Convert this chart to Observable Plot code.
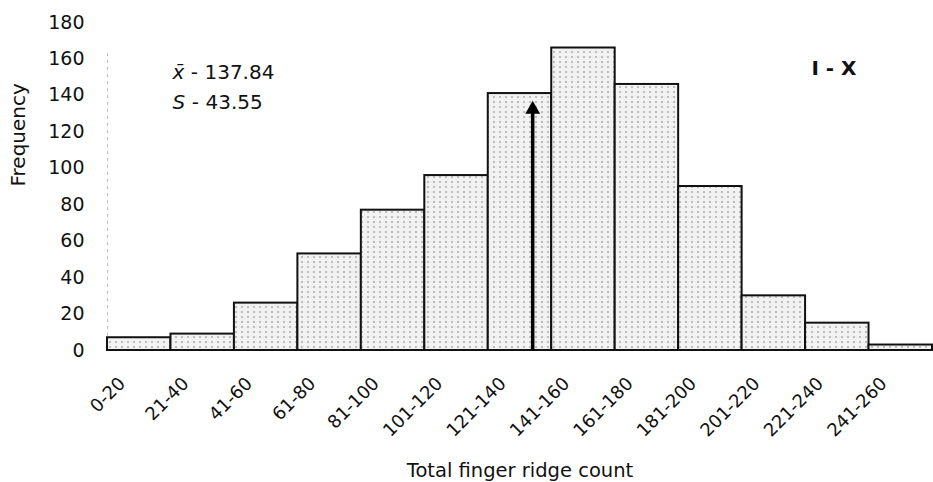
<!DOCTYPE html>
<html>
<head>
<meta charset="utf-8">
<script src="https://cdn.jsdelivr.net/npm/d3@7"></script>
<script src="https://cdn.jsdelivr.net/npm/@observablehq/plot@0.6"></script>
<style>
  html, body { margin: 0; padding: 0; background: #fff; }
  #chart svg { display: block; font-family: "DejaVu Sans", sans-serif; }
</style>
</head>
<body>
<div id="chart"></div>
<script>
// Data
const categories = ["0-20","21-40","41-60","61-80","81-100","101-120","121-140","141-160","161-180","181-200","201-220","221-240","241-260"];
const frequency  = [7, 9, 26, 53, 77, 96, 141, 166, 146, 90, 30, 15, 3];
const binEdges   = [0, 20, 40, 60, 80, 100, 120, 140, 160, 180, 200, 220, 240, 260];
const yTicks     = [0, 20, 40, 60, 80, 100, 120, 140, 160, 180];
const meanArrow  = [{x: 134, y: 137}];   // arrow position
const meanLabel  = "137.84";
const sdLabel    = "43.55";
const panelLabel = "I - X";
const xTitle     = "Total finger ridge count";
const yTitle     = "Frequency";

const bars = categories.map((c, i) => ({label: c, lo: binEdges[i], hi: binEdges[i + 1], f: frequency[i]}));
const centers = bars.map(d => (d.lo + d.hi) / 2);
const labelAt = new Map(centers.map((c, i) => [c, categories[i]]));

const svg = Plot.plot({
  width: 933,
  height: 482,
  marginLeft: 107,
  marginRight: 1,
  marginTop: 22,
  marginBottom: 132,
  style: {fontFamily: "DejaVu Sans, sans-serif", color: "#111", background: "#fff"},
  x: {domain: [0, 260]},
  y: {domain: [0, 180]},
  marks: [
    Plot.ruleX([0], {y1: 0, y2: 165, stroke: "#bbb", strokeWidth: 1, strokeDasharray: "3,4"}),
    Plot.rectY(bars, {x1: "lo", x2: "hi", y: "f", fill: "url(#dots)", stroke: "#111", strokeWidth: 2}),
    Plot.ruleX(meanArrow, {x: "x", y1: "y", y2: 0, stroke: "#000", strokeWidth: 3.5, insetTop: 10}),
    Plot.dot(meanArrow, {x: "x", y: "y", symbol: "triangle", r: 5.5, fill: "#000", stroke: null, dy: 8.5}),
    Plot.axisY({ticks: yTicks, tickSize: 0, tickPadding: 23, fontSize: 19, label: null}),
    Plot.axisX({ticks: centers, tickFormat: d => labelAt.get(d), tickRotate: -45, tickSize: 0, tickPadding: 30, dx: -17, fontSize: 18, label: null}),
    Plot.text([yTitle], {frameAnchor: "left", rotate: -90, dx: -89, fontSize: 20, text: d => d}),
    Plot.text([xTitle], {frameAnchor: "bottom", lineAnchor: "bottom", dy: 126, fontSize: 19.5, text: d => d}),
    Plot.text(["x\u0304"], {frameAnchor: "top-left", textAnchor: "start", lineAnchor: "bottom", dx: 65, dy: 56, fontSize: 20, fontStyle: "italic", text: d => d}),
    Plot.text([" - " + meanLabel], {frameAnchor: "top-left", textAnchor: "start", lineAnchor: "bottom", dx: 77, dy: 56, fontSize: 20, text: d => d}),
    Plot.text(["S"], {frameAnchor: "top-left", textAnchor: "start", lineAnchor: "bottom", dx: 65, dy: 86, fontSize: 20, fontStyle: "italic", text: d => d}),
    Plot.text([" - " + sdLabel], {frameAnchor: "top-left", textAnchor: "start", lineAnchor: "bottom", dx: 78, dy: 86, fontSize: 20, text: d => d}),
    Plot.text([panelLabel], {frameAnchor: "top-right", textAnchor: "end", lineAnchor: "bottom", dx: -76, dy: 52, fontSize: 20, fontWeight: "bold", text: d => d})
  ]
});

const ns = "http://www.w3.org/2000/svg";
const defs = document.createElementNS(ns, "defs");
defs.innerHTML = '<pattern id="dots" width="6" height="5" patternUnits="userSpaceOnUse">' +
  '<rect width="6" height="5" fill="#f2f2f2"/>' +
  '<circle cx="2" cy="2" r="0.8" fill="#7a7a7a"/></pattern>';
svg.insertBefore(defs, svg.firstChild);

document.getElementById("chart").appendChild(svg);
</script>
</body>
</html>
